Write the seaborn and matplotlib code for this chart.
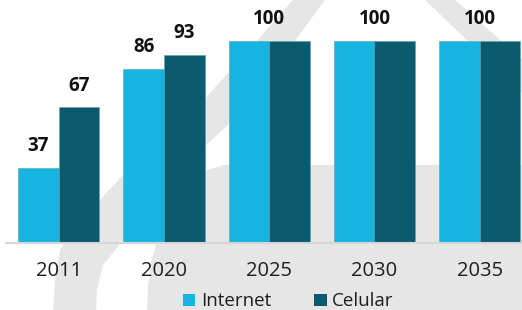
import matplotlib
matplotlib.use("Agg")
import matplotlib.pyplot as plt
import seaborn as sns
import pandas as pd
from matplotlib.patches import Polygon

# ---- data ----
years = ["2011", "2020", "2025", "2030", "2035"]
internet = [37, 86, 100, 100, 100]
celular = [67, 93, 100, 100, 100]
series_names = ["Internet", "Celular"]
colors = ["#15B5DF", "#0B5B6E"]

df = pd.DataFrame({
    "year": years * 2,
    "value": internet + celular,
    "series": [series_names[0]] * len(years) + [series_names[1]] * len(years),
})

sns.set_theme(style="white")
plt.rcParams["font.family"] = ["Open Sans", "DejaVu Sans"]

W, H = 522, 310
fig = plt.figure(figsize=(W / 100, H / 100), dpi=100)
fig.patch.set_facecolor("white")


def px(pts):
    return [(x / W, 1 - y / H) for x, y in pts]


# ---- faint background watermark ----
wm = "#e6e6e6"
band_outer = [(297, -5), (293, 0), (240, 60), (190, 115), (150, 150), (123, 175),
              (95, 205), (72, 230), (60, 250), (55, 280), (53, 315)]
band_inner = [(96, 315), (97, 290), (103, 265), (122, 242), (135, 222), (160, 192),
              (195, 155), (228, 125), (255, 95), (325, 0), (329, -5)]
roof_right = [(420, -5), (425, 0), (540, 110), (580, 110), (455, 0), (450, -5)]
block = [(147, 315), (148, 285), (152, 258), (160, 232), (172, 207), (188, 185),
         (205, 171), (224, 165), (540, 165), (540, 315)]
for shape in (band_outer + band_inner, roof_right, block):
    fig.add_artist(Polygon(px(shape), closed=True, transform=fig.transFigure,
                           facecolor=wm, edgecolor="none", zorder=-1))

# ---- axes ----
ax = fig.add_axes([6.2 / W, (H - 242.7) / H, 526 / W, 242.4 / H])
ax.set_facecolor("none")

sns.barplot(data=df, x="year", y="value", hue="series", palette=colors,
            width=0.77, saturation=1, ax=ax, edgecolor="#5f9fae", linewidth=0.4)

ax.set_ylim(0, 120)
ax.set_xlim(-0.5, len(years) - 0.5)
ax.set_xlabel("")
ax.set_ylabel("")
ax.set_yticks([])
for s in ("left", "top", "right"):
    ax.spines[s].set_visible(False)
ax.spines["bottom"].set_color("#d6d6d6")
ax.spines["bottom"].set_linewidth(1.5)
ax.tick_params(axis="x", length=0, pad=13, labelsize=14.5, labelcolor="#1e1e1e")

# ---- value labels ----
lab_kw = dict(textcoords="offset points", xytext=(0, 12), ha="center", va="baseline",
              fontsize=13.5, fontweight="bold", color="#111111")
c_int, c_cel = ax.containers[0], ax.containers[1]
for i in range(len(years)):
    pi, pc = c_int[i], c_cel[i]
    if internet[i] == celular[i]:
        xc = (pi.get_x() + pc.get_x() + pc.get_width()) / 2
        ax.annotate(str(internet[i]), xy=(xc, internet[i]), **lab_kw)
    else:
        ax.annotate(str(internet[i]), xy=(pi.get_x() + pi.get_width() / 2, internet[i]), **lab_kw)
        ax.annotate(str(celular[i]), xy=(pc.get_x() + pc.get_width() / 2, celular[i]), **lab_kw)

# ---- legend ----
handles, labels = ax.get_legend_handles_labels()
if ax.get_legend() is not None:
    ax.get_legend().remove()
leg = fig.legend(handles, labels, loc="center", bbox_to_anchor=(288.5 / W, (H - 301.5) / H),
                 ncol=2, frameon=False, fontsize=13.5, handlelength=0.65, handleheight=0.65,
                 handletextpad=0.3, columnspacing=2.3, borderpad=0, borderaxespad=0)
for t in leg.get_texts():
    t.set_color("#1e1e1e")
for h in leg.legend_handles:
    h.set_edgecolor("none")

fig.savefig("out.png", dpi=100, facecolor="white")
